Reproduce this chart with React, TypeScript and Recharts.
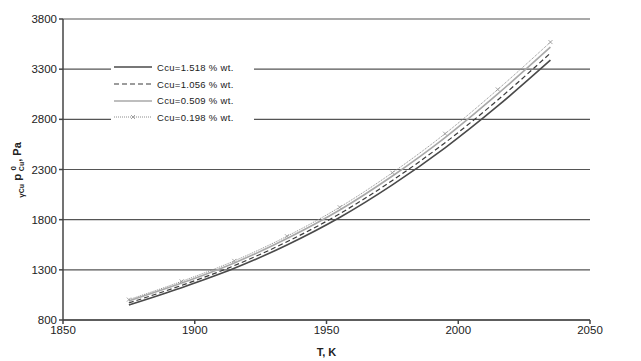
import { CartesianGrid, Line, LineChart, XAxis, YAxis } from 'recharts'

// temperatures, K
const temps = [1875, 1895, 1915, 1935, 1955, 1975, 1995, 2015, 2035]

// gamma_Cu * p0_Cu, Pa for each Cu content
const cu1518 = [950, 1122, 1315, 1548, 1822, 2147, 2516, 2933, 3390]
const cu1056 = [970, 1145, 1342, 1580, 1859, 2191, 2567, 2993, 3460]
const cu0509 = [990, 1168, 1369, 1612, 1896, 2235, 2618, 3053, 3520]
const cu0198 = [1003, 1185, 1389, 1635, 1924, 2268, 2657, 3098, 3570]

const xTicks = [1850, 1900, 1950, 2000, 2050]
const yTicks = [800, 1300, 1800, 2300, 2800, 3300, 3800]

const SERIES = [
    { key: 'c1518', name: 'Ccu=1.518 % wt.', color: '#4a4a4a', dash: undefined, width: 1.6 },
    { key: 'c1056', name: 'Ccu=1.056 % wt.', color: '#3a3a3a', dash: '5 3', width: 1.2 },
    { key: 'c0509', name: 'Ccu=0.509 % wt.', color: '#a8a8a8', dash: undefined, width: 1.6 },
    { key: 'c0198', name: 'Ccu=0.198 % wt.', color: '#8c8c8c', dash: '1 1', width: 1 },
]

const data = temps.map((t, i) => ({
    t,
    c1518: cu1518[i],
    c1056: cu1056[i],
    c0509: cu0509[i],
    c0198: cu0198[i],
}))

const font = 'Arial, "Liberation Sans", sans-serif'

const CrossDot = (props: any) => {
    const { cx, cy } = props
    if (cx == null || cy == null) return null
    return (
        <g stroke="#999" strokeWidth={0.9}>
            <line x1={cx - 2} y1={cy - 2} x2={cx + 2} y2={cy + 2} />
            <line x1={cx - 2} y1={cy + 2} x2={cx + 2} y2={cy - 2} />
        </g>
    )
}

function LegendBox() {
    return (
        <div
            style={{
                position: 'absolute',
                left: 111,
                top: 59,
                background: '#fff',
                padding: '0 20px 0 3px',
                fontFamily: font,
                fontSize: 9.5,
                letterSpacing: 0.3,
                color: '#222',
            }}
        >
            {SERIES.map((s) => (
                <div key={s.key} style={{ display: 'flex', alignItems: 'center', height: 16.7 }}>
                    <svg width={38} height={8} style={{ marginRight: 5 }}>
                        <line x1={0} y1={4} x2={38} y2={4} stroke={s.color} strokeWidth={s.width} strokeDasharray={s.dash} />
                        {s.key === 'c0198' && (
                            <g stroke="#999" strokeWidth={0.9}>
                                <line x1={17} y1={2} x2={21} y2={6} />
                                <line x1={17} y1={6} x2={21} y2={2} />
                            </g>
                        )}
                    </svg>
                    <span>{s.name}</span>
                </div>
            ))}
        </div>
    )
}

function YLabel() {
    return (
        <text
            transform="translate(21, 170) rotate(-90)"
            textAnchor="middle"
            fontFamily={font}
            fontWeight="bold"
            fontSize={11}
            fill="#222"
        >
            <tspan fontSize={8} dy={3}>γ</tspan>
            <tspan fontSize={7} dy={0}>Cu</tspan>
            <tspan fontSize={11.5} dy={-3}> p </tspan>
            <tspan fontSize={8} dy={-5}>0</tspan>
            <tspan fontSize={7} dy={8} dx={-5}>Cu</tspan>
            <tspan fontSize={11} dy={-3}>, Pa</tspan>
        </text>
    )
}

export default function App() {
    return (
        <div style={{ position: 'absolute', left: 0, top: 0, width: 641, height: 361, background: '#fff' }}>
            <LineChart width={641} height={361} data={data} margin={{ top: 19, right: 51, bottom: 13, left: 0 }}>
                <CartesianGrid horizontal vertical={false} stroke="#555" strokeWidth={1.2} />
                <XAxis
                    dataKey="t"
                    type="number"
                    domain={[1850, 2050]}
                    ticks={xTicks}
                    height={28}
                    tick={{ fontSize: 11.5, fill: '#222', fontFamily: font }}
                    tickSize={4}
                    stroke="#444"
                    strokeWidth={1.5}
                    label={{ value: 'T, K', position: 'insideBottom', offset: -8, fontSize: 11, fontWeight: 'bold', fill: '#222', fontFamily: font }}
                />
                <YAxis
                    type="number"
                    domain={[800, 3800]}
                    ticks={yTicks}
                    width={63}
                    tick={{ fontSize: 11.5, fill: '#222', fontFamily: font }}
                    tickSize={4}
                    stroke="#444"
                    strokeWidth={1.5}
                    label={<YLabel />}
                />
                <YAxis yAxisId="right" orientation="right" width={0} tick={false} stroke="#444" strokeWidth={1.5} domain={[800, 3800]} />
                {SERIES.map((s) => (
                    <Line
                        key={s.key}
                        type="monotone"
                        dataKey={s.key}
                        name={s.name}
                        stroke={s.color}
                        strokeWidth={s.width}
                        strokeDasharray={s.dash}
                        dot={s.key === 'c0198' ? <CrossDot /> : false}
                        activeDot={false}
                        isAnimationActive={false}
                    />
                ))}
            </LineChart>
            <LegendBox />
        </div>
    )
}
